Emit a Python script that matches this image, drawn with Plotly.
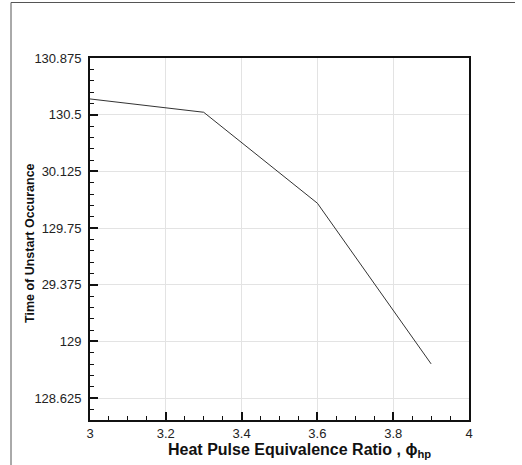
import plotly.graph_objects as go

phi_hp = [3.0, 3.3, 3.6, 3.9]
unstart_time = [130.604, 130.516, 129.914, 128.851]

y_tickvals = [128.625, 129.0, 129.375, 129.75, 130.125, 130.5, 130.875]
y_ticktext = ["128.625", "129", "29.375", "129.75", "30.125", "130.5", "130.875"]
x_tickvals = [3.0, 3.2, 3.4, 3.6, 3.8, 4.0]
x_ticktext = ["3", "3.2", "3.4", "3.6", "3.8", "4"]

x_title = "<b>Heat Pulse Equivalence Ratio , ϕ<sub>hp</sub></b>"
y_title = "<b>Time of Unstart Occurance</b>"

FONT = "Liberation Sans, Arial, sans-serif"

fig = go.Figure()
fig.add_trace(go.Scatter(
    x=phi_hp, y=unstart_time, mode="lines",
    line=dict(color="#333333", width=1),
    showlegend=False,
))

L, R, T, B = 90, 53, 58, 45
W, H = 522, 465
pw, ph = W - L - R, H - T - B

def px2x(px):
    return (px - L) / pw

def py2y(py):
    return (H - B - py) / ph

# outer frame (left and top edges)
fig.add_shape(type="line", xref="paper", yref="paper",
              x0=px2x(11), x1=px2x(11), y0=py2y(2.5), y1=py2y(470),
              line=dict(color="#555555", width=1))
fig.add_shape(type="line", xref="paper", yref="paper",
              x0=px2x(11), x1=px2x(515), y0=py2y(2.5), y1=py2y(2.5),
              line=dict(color="#555555", width=1))

# axis titles
fig.add_annotation(text=x_title, xref="paper", yref="paper",
                   x=px2x(299), y=py2y(439), xanchor="center", yanchor="top",
                   showarrow=False, font=dict(size=16, color="#111111", family=FONT))
fig.add_annotation(text=y_title, xref="paper", yref="paper",
                   x=px2x(30), y=py2y(243), xanchor="center", yanchor="middle",
                   textangle=-90, showarrow=False,
                   font=dict(size=12.5, color="#111111", family=FONT))

fig.update_layout(
    width=W, height=H,
    margin=dict(l=L, r=R, t=T, b=B),
    paper_bgcolor="white", plot_bgcolor="white",
    font=dict(family=FONT, color="#222222", size=13),
    xaxis=dict(
        range=[3, 4], tickmode="array", tickvals=x_tickvals, ticktext=x_ticktext,
        ticks="inside", ticklen=8, tickwidth=2, tickcolor="#111111",
        minor=dict(ticks="inside", ticklen=4, tickwidth=1, tickmode="linear", tick0=3, dtick=0.05,
                   tickcolor="#111111", showgrid=False),
        showgrid=True, gridcolor="#e3e3e3", gridwidth=1,
        showline=True, linecolor="#111111", linewidth=2, mirror=True,
        zeroline=False, tickfont=dict(size=13), ticklabelstandoff=0,
    ),
    yaxis=dict(
        range=[128.4795, 130.875], tickmode="array", tickvals=y_tickvals, ticktext=y_ticktext,
        ticks="inside", ticklen=8, tickwidth=2, tickcolor="#111111",
        minor=dict(ticks="inside", ticklen=4, tickwidth=1, tickmode="linear", tick0=128.625, dtick=0.075,
                   tickcolor="#111111", showgrid=False),
        showgrid=True, gridcolor="#e3e3e3", gridwidth=1,
        showline=True, linecolor="#111111", linewidth=2, mirror=True,
        zeroline=False, tickfont=dict(size=13), ticklabelstandoff=4,
    ),
)

fig.write_html("out.html")
